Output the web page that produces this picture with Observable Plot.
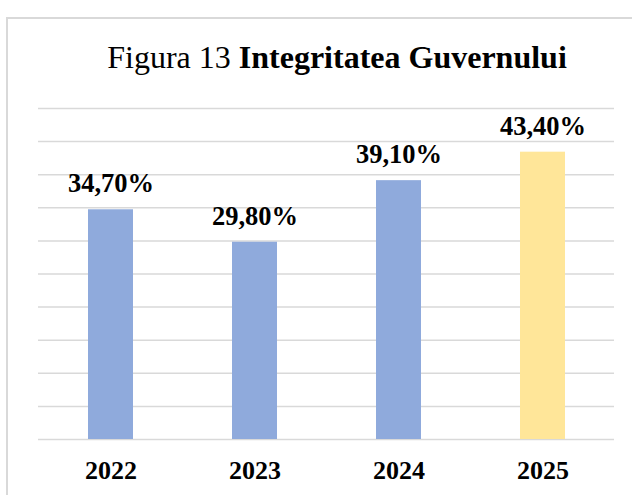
<!DOCTYPE html>
<html>
<head>
<meta charset="utf-8">
<script src="https://cdn.jsdelivr.net/npm/d3@7"></script>
<script src="https://cdn.jsdelivr.net/npm/@observablehq/plot@0.6"></script>
<style>
  html, body { margin: 0; padding: 0; background: #fff; }
  #chart { width: 632px; height: 495px; overflow: hidden; }
</style>
</head>
<body>
<div id="chart"></div>
<script>
const years = ["2022", "2023", "2024", "2025"];
const values = [34.7, 29.8, 39.1, 43.4];
const labels = ["34,70%", "29,80%", "39,10%", "43,40%"];
const barColors = ["#8FAADC", "#8FAADC", "#8FAADC", "#FFE699"];
const gridTicks = [0, 5, 10, 15, 20, 25, 30, 35, 40, 45, 50];
const titleRegular = "Figura 13 ";
const titleBold = "Integritatea Guvernului";

const data = years.map((y, i) => ({year: y, value: values[i], label: labels[i], color: barColors[i]}));
const font = "'Liberation Serif', 'Times New Roman', serif";

const plot = Plot.plot({
  width: 632,
  height: 495,
  marginTop: 108,
  marginBottom: 56,
  marginLeft: 38,
  marginRight: 18,
  style: {fontFamily: font, background: "#fff", overflow: "visible"},
  x: {domain: years, paddingInner: 0.6875, paddingOuter: 0.34375, axis: null},
  y: {domain: [0, 50], axis: null},
  marks: [
    Plot.ruleY(gridTicks, {stroke: "#D9D9D9", strokeWidth: 1.5}),
    Plot.barY(data, {x: "year", y: "value", fill: "color"}),
    Plot.text(data, {x: "year", y: "value", text: "label", dy: -26, fontSize: 26.5, fontWeight: "bold", fill: "#000"}),
    Plot.text(data, {x: "year", text: "year", frameAnchor: "bottom", dy: 39, fontSize: 26, fontWeight: "bold", fill: "#000"})
  ]
});

const svg = d3.select(plot);
svg.append("path")
  .attr("d", "M7,500 L7,18 L640,18")
  .attr("fill", "none")
  .attr("stroke", "#D9D9D9")
  .attr("stroke-width", 2);

const t = svg.append("text")
  .attr("x", 337)
  .attr("y", 68)
  .attr("text-anchor", "middle")
  .attr("font-family", font)
  .attr("font-size", 32)
  .attr("fill", "#000");
t.append("tspan").text(titleRegular);
t.append("tspan").attr("font-weight", "bold").text(titleBold);

document.getElementById("chart").appendChild(plot);
</script>
</body>
</html>
